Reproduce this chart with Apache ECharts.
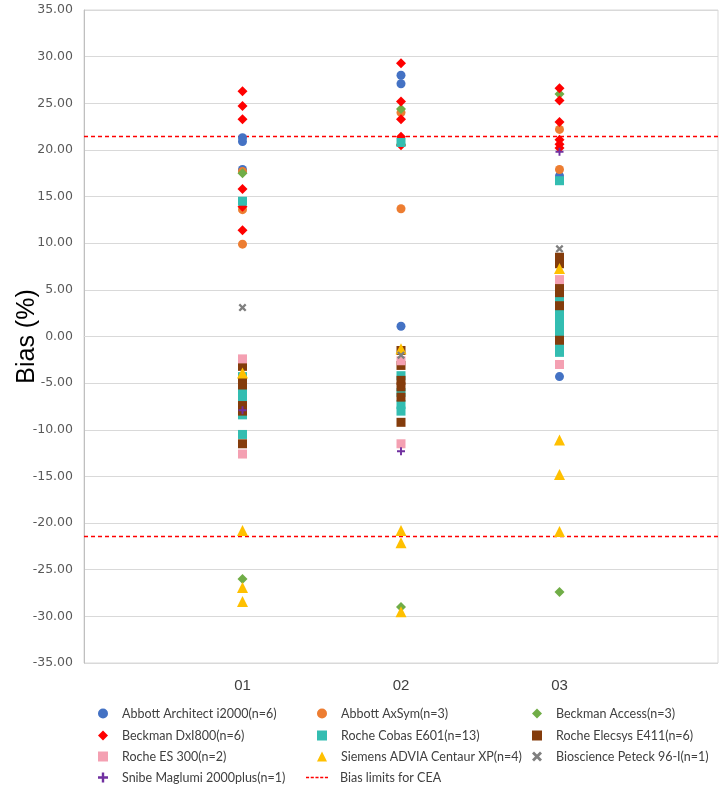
<!DOCTYPE html>
<html>
<head>
<meta charset="utf-8">
<script src="https://cdn.jsdelivr.net/npm/echarts@6/dist/echarts.min.js"></script>
<style>html,body{margin:0;padding:0;background:#fff}#c{width:724px;height:785px}</style>
</head>
<body>
<div id="c"></div>
<script>
// ---- data ----
const categories = ['01', '02', '03'];
const yTicks = [-35, -30, -25, -20, -15, -10, -5, 0, 5, 10, 15, 20, 25, 30, 35];
const biasLimit = 21.45;

// values per sample (01, 02, 03)
const architect = [[21.3, 20.9, 17.9], [28.0, 27.1, 1.1], [17.2, -4.3]];
const axsym = [[17.7, 13.6, 9.9], [24.0, 13.7], [22.2, 17.9]];
const access = [[17.5, -26.0], [24.4, 20.6, -29.0], [26.0, -27.4]];
const dxi800 = [[26.3, 24.7, 23.3, 15.8, 13.9, 11.4], [29.3, 25.2, 23.3, 21.4, 20.5], [26.6, 25.3, 23.0, 21.1, 20.6, 20.2]];
const cobas = [[14.5, -4.3, -6.0, -6.5, -8.4, -10.5], [20.8, -4.2, -6.0, -7.3, -8.0], [16.7, 4.0, 2.5, 1.8, 1.0, 0.3, -1.2, -1.7]];
const elecsys = [[-3.2, -4.8, -5.2, -7.4, -8.0, -11.5], [-1.5, -3.1, -4.7, -5.4, -6.5, -9.2], [8.5, 7.8, 5.2, 4.7, 3.3, -0.4]];
const es300 = [[-2.4, -12.6], [-2.6, -11.5], [6.1, -3.0]];
const siemens = [[-3.9, -20.8, -26.9, -28.4], [-1.3, -20.8, -22.1, -29.5], [7.3, -11.1, -14.8, -20.9]];
const bioscience = [[3.1], [-2.0], [9.4]];
const snibe = [[-7.9], [-12.3], [19.8]];

const seriesNames = [
  'Abbott Architect i2000(n=6)', 'Abbott AxSym(n=3)', 'Beckman Access(n=3)',
  'Beckman DxI800(n=6)', 'Roche Cobas E601(n=13)', 'Roche Elecsys E411(n=6)',
  'Roche ES 300(n=2)', 'Siemens ADVIA Centaur XP(n=4)', 'Bioscience Peteck 96-I(n=1)',
  'Snibe Maglumi 2000plus(n=1)'
];
const limitName = 'Bias limits for CEA';

// ---- build ----
const X_PATH = 'path://M2,0 L5,3 L8,0 L10,2 L7,5 L10,8 L8,10 L5,7 L2,10 L0,8 L3,5 L0,2 Z';
const PLUS_PATH = 'path://M3.8,0 L6.2,0 L6.2,3.8 L10,3.8 L10,6.2 L6.2,6.2 L6.2,10 L3.8,10 L3.8,6.2 L0,6.2 L0,3.8 L3.8,3.8 Z';
const DASH_PATH = 'path://M0,0h3v1.6h-3z M4.6,0h3v1.6h-3z M9.2,0h3v1.6h-3z M13.8,0h3v1.6h-3z M18.4,0h3v1.6h-3z';

const groups = [architect, axsym, access, dxi800, cobas, elecsys, es300, siemens, bioscience, snibe];
const styles = [
  { symbol: 'circle', size: 9, color: '#4472C4' },
  { symbol: 'circle', size: 9, color: '#ED7D31' },
  { symbol: 'diamond', size: 10, color: '#70AD47' },
  { symbol: 'diamond', size: 10, color: '#FF0000' },
  { symbol: 'rect', size: 9, color: '#33BDB1' },
  { symbol: 'rect', size: 9, color: '#843C0C' },
  { symbol: 'rect', size: 9, color: '#F4A0B2' },
  { symbol: 'triangle', size: 11, color: '#FFC000' },
  { symbol: X_PATH, size: 8, color: '#7F7F7F' },
  { symbol: PLUS_PATH, size: 8, color: '#7030A0' }
];

function toPoints(g) {
  const pts = [];
  g.forEach((vals, i) => vals.forEach(v => pts.push([i + 1, v])));
  return pts;
}

const series = groups.map((g, k) => ({
  name: seriesNames[k],
  type: 'scatter',
  symbol: styles[k].symbol,
  symbolSize: styles[k].size,
  itemStyle: { color: styles[k].color, opacity: 1 },
  data: toPoints(g),
  z: 3
}));
[biasLimit, -biasLimit].forEach(v => {
  series.push({
    name: limitName,
    type: 'line',
    symbol: 'none',
    data: [[0, v], [categories.length + 1, v]],
    lineStyle: { color: '#FF0000', width: 1.5, type: [4, 3] },
    itemStyle: { color: '#FF0000' },
    z: 2,
    silent: true
  });
});

const legendText = { fontFamily: 'Lato, Liberation Sans, Arial, sans-serif', fontSize: 12.5, color: '#404040' };
const rowTops = [707, 729, 750, 771];
const colLefts = [98, 317, 532];
const legendLayout = [
  [0, 0, 0], [1, 1, 0], [2, 2, 0],
  [3, 0, 1], [4, 1, 1], [5, 2, 1],
  [6, 0, 2], [7, 1, 2], [8, 2, 2],
  [9, 0, 3]
];
const legends = legendLayout.map(([k, c, r]) => ({
  orient: 'horizontal', left: colLefts[c], top: rowTops[r], padding: 0,
  itemWidth: 10, itemHeight: 10, selectedMode: false,
  textStyle: Object.assign({ padding: [0, 0, 0, 9] }, legendText),
  data: [seriesNames[k]]
}));
legends.push({
  orient: 'horizontal', left: 306, top: rowTops[3], padding: 0,
  itemWidth: 22, itemHeight: 2, selectedMode: false,
  textStyle: Object.assign({ padding: [0, 0, 0, 7] }, legendText),
  data: [{ name: limitName, icon: DASH_PATH }]
});

const option = {
  animation: false,
  backgroundColor: '#ffffff',
  grid: { left: 84, right: 6, top: 10, bottom: 122, show: true, borderColor: '#d9d9d9', borderWidth: 1, containLabel: false, outerBoundsMode: 'none' },
  xAxis: {
    type: 'value', min: 0, max: categories.length + 1, interval: 1,
    axisLine: { show: true, lineStyle: { color: '#d9d9d9' } },
    axisTick: { show: false },
    splitLine: { show: false },
    axisLabel: {
      margin: 15, fontFamily: 'Liberation Sans, Arial, sans-serif', fontSize: 15, color: '#404040',
      formatter: v => (categories[v - 1] || '')
    }
  },
  yAxis: {
    type: 'value', min: yTicks[0], max: yTicks[yTicks.length - 1], interval: 5,
    name: 'Bias (%)', nameLocation: 'middle', nameGap: 44, nameMoveOverlap: false,
    nameTextStyle: { fontFamily: 'Liberation Sans, Arial, sans-serif', fontSize: 25, color: '#000' },
    axisLine: { show: true, lineStyle: { color: '#bfbfbf' } },
    axisTick: { show: false },
    splitLine: { show: true, lineStyle: { color: '#d9d9d9', width: 1 } },
    axisLabel: {
      margin: 11, fontFamily: 'DejaVu Sans, Verdana, sans-serif', fontSize: 12.5, color: '#595959',
      formatter: v => v.toFixed(2)
    }
  },
  legend: legends,
  series: series
};

const chart = echarts.init(document.getElementById('c'), null, { renderer: 'canvas' });
chart.setOption(option);
</script>
</body>
</html>
